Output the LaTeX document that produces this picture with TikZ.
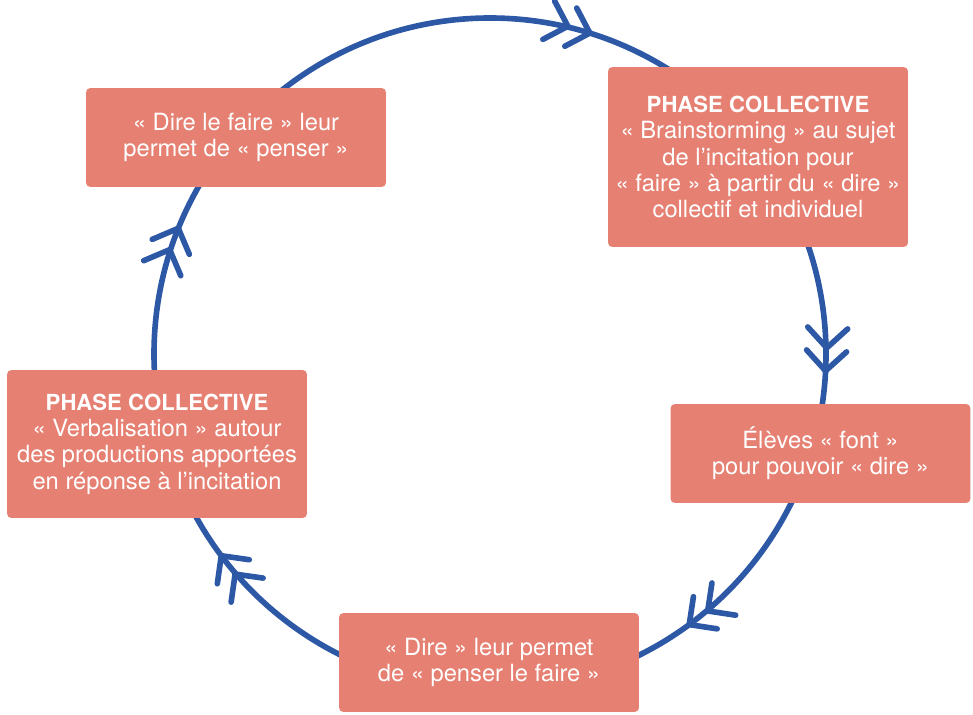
\documentclass[tikz,border=0pt]{standalone}
\usepackage{fontspec}
\setmainfont{TeX Gyre Heros}
\usetikzlibrary{decorations.markings}
\definecolor{boxred}{RGB}{230,128,114}
\definecolor{ringblue}{RGB}{44,88,165}
\newcommand{\phasetitle}[1]{{\fontsize{12.6}{15}\selectfont\bfseries #1}}
\tikzset{
  phase/.style={rectangle,fill=boxred,rounded corners=2.5pt,inner sep=0pt,
    minimum width=6cm,text=white,align=center,
    font=\fontsize{13.5}{15}\selectfont},
  chev/.style={ringblue,line width=3.2pt,line cap=round,line join=round},
  twochev/.style={postaction={decorate,decoration={markings,
    mark=at position #1 with {\draw[chev] (-20,20)--(0,0)--(-20,-20);
                              \draw[chev] (-43,20)--(-23,0)--(-43,-20);}}}}
}

\begin{document}
\begin{tikzpicture}[x=0.02cm,y=0.02cm]
  \useasboundingbox (0,0) rectangle (973,714);
  \coordinate (ctr) at (490,360);
  \draw[ringblue,line width=3.2pt,twochev=0.048,twochev=0.258,twochev=0.399,
        twochev=0.6475,twochev=0.811]
    (ctr) ++(90:336) arc[start angle=90,end angle=-270,radius=336];
  \node[phase,minimum height=1.98cm] (dire) at (236,576.5)
    {« Dire le faire » leur\\permet de « penser »};
  \node[phase,minimum height=3.6cm] (brain) at (758,557)
    {\phasetitle{PHASE COLLECTIVE}\\« Brainstorming » au sujet\\de l’incitation pour\\« faire » à partir du « dire »\\collectif et individuel};
  \node[phase,minimum height=1.98cm] (font) at (820.5,260.5)
    {Élèves « font »\\pour pouvoir « dire »};
  \node[phase,minimum height=1.98cm] (penser) at (489,51.5)
    {« Dire » leur permet\\de « penser le faire »};
  \node[phase,minimum height=2.96cm] (verbal) at (157,270)
    {\phasetitle{PHASE COLLECTIVE}\\« Verbalisation » autour\\des productions apportées\\en réponse à l’incitation};
\end{tikzpicture}
\end{document}
